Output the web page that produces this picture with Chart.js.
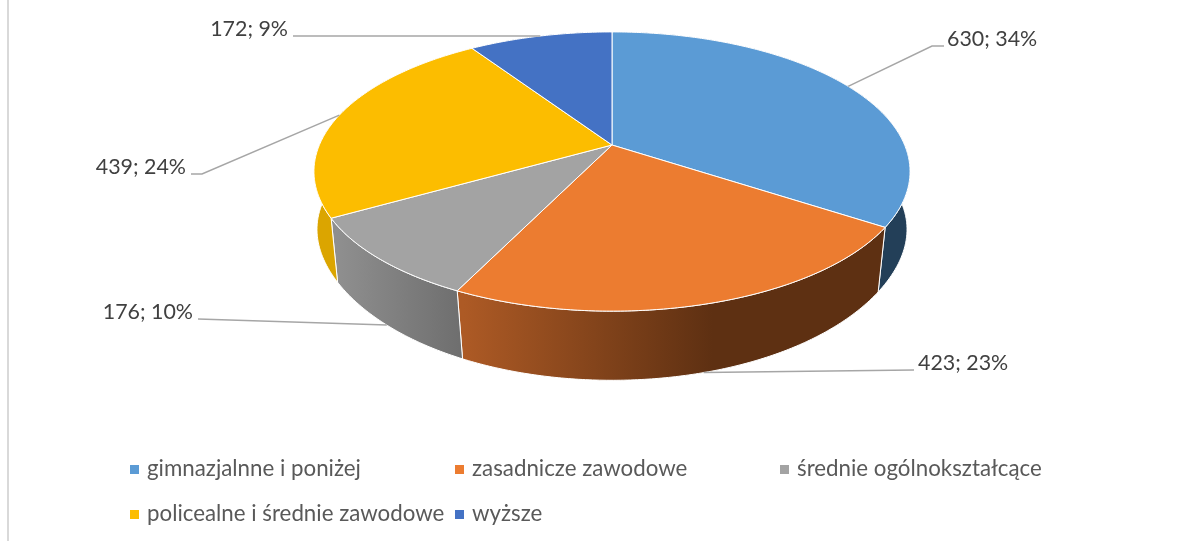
<!DOCTYPE html>
<html lang="pl">
<head>
<meta charset="utf-8">
<title>Wykształcenie</title>
<script src="https://cdn.jsdelivr.net/npm/chart.js@4/dist/chart.umd.min.js"></script>
<style>
  html, body { margin: 0; background: #fff; overflow: hidden; }
  #wrap { position: relative; width: 1198px; height: 541px; }
  #edge { position: absolute; left: 7px; top: 0; width: 2px; height: 541px; background: #d9d9d9; }
  canvas { position: absolute; left: 0; top: 0; }
</style>
</head>
<body>
<div id="wrap">
  <canvas id="chart" width="1198" height="541"></canvas>
  <div id="edge"></div>
</div>
<script>
const categories = ['gimnazjalnne i poniżej', 'zasadnicze zawodowe', 'średnie ogólnokształcące', 'policealne i średnie zawodowe', 'wyższe']
const values = [630, 423, 176, 439, 172]

const topColors = ['#5b9bd5', '#ec7c30', '#a3a3a3', '#fcbd00', '#4472c4']
// side wall gradient, left colour -> right colour, and where it stops changing
const wallColors = [
    ['#233f58', '#233f58', 1],
    ['#ad5a25', '#5e3012', 0.6],
    ['#8f8f8f', '#6e6e6e', 1],
    ['#dba500', '#dba500', 1],
    ['#29446f', '#29446f', 1],
]

// perspective of the pie, all relative to the outer radius
// bulge widens the lower rim at the far left and right, the sides drop almost straight there
const top_face = { dy: 0, w: 2.018, h: 0.928, k: 0.19, bulge: 0 }
const low_face = { dy: 0.414, w: 1.948, h: 0.979, k: 0.19, bulge: 0.028 }

// knee of the leader line and where its text sits
const leaders = [
    { knee: [932, 46], end: [944, 46], text: [947, 39], align: 'left' },
    { knee: [914, 370], end: [914, 370], text: [918, 363], align: 'left' },
    { knee: [198, 319], end: [198, 319], text: [193, 312], align: 'right' },
    { knee: [202, 174], end: [191, 174], text: [186, 167], align: 'right' },
    { knee: [293, 36], end: [293, 36], text: [288, 29], align: 'right' },
]

const legendCols = [130, 455, 780, 130, 455]
const legendRows = [469, 469, 469, 514, 514]
const LABEL_FONT = '21.4px Lato, Carlito, sans-serif'
const LEGEND_FONT = '22.3px Lato, Carlito, sans-serif'

const project = (arc, angle, face) => {
    const R = arc.outerRadius
    const u = Math.cos(angle)
    const v = -Math.sin(angle)
    const d = 1 + face.k * v
    const spread = 1 + face.bulge * Math.pow(u, 6)
    return [arc.x + R * face.w * spread * u / d, arc.y + R * face.dy - R * face.h * v / d]
}

const traceRim = (ctx, arc, from, to, face) => {
    const steps = Math.ceil(Math.abs(to - from) / 0.01)
    for (let i = 0; i <= steps; i++) {
        const p = project(arc, from + (to - from) * i / steps, face)
        ctx.lineTo(p[0], p[1])
    }
}

const pie3d = {
    id: 'pie3d',
    beforeDatasetDraw(chart, args) {
        const ctx = chart.ctx
        const arcs = args.meta.data
        ctx.save()
        ctx.lineJoin = 'round'
        ctx.strokeStyle = '#ffffff'
        ctx.lineWidth = 1

        // walls first, the top face covers whatever is behind
        arcs.forEach((arc, i) => {
            const xs = []
            for (let a = arc.startAngle; a <= arc.endAngle; a += 0.01) xs.push(project(arc, a, low_face)[0])
            const g = ctx.createLinearGradient(Math.min(...xs), 0, Math.max(...xs), 0)
            g.addColorStop(0, wallColors[i][0])
            g.addColorStop(wallColors[i][2], wallColors[i][1])
            g.addColorStop(1, wallColors[i][1])
            ctx.beginPath()
            traceRim(ctx, arc, arc.startAngle, arc.endAngle, top_face)
            traceRim(ctx, arc, arc.endAngle, arc.startAngle, low_face)
            ctx.closePath()
            ctx.fillStyle = g
            ctx.fill()
            ctx.stroke()
        })

        arcs.forEach((arc, i) => {
            ctx.beginPath()
            ctx.moveTo(arc.x, arc.y)
            traceRim(ctx, arc, arc.startAngle, arc.endAngle, top_face)
            ctx.closePath()
            ctx.fillStyle = topColors[i]
            ctx.fill()
            ctx.stroke()
        })
        ctx.restore()
        return false
    },
    afterDraw(chart) {
        const ctx = chart.ctx
        const arcs = chart.getDatasetMeta(0).data
        const total = values.reduce((a, b) => a + b, 0)
        ctx.save()
        ctx.textBaseline = 'middle'

        ctx.font = LABEL_FONT
        arcs.forEach((arc, i) => {
            // leader starts on the rim in the middle of the slice
            const mid = (arc.startAngle + arc.endAngle) / 2
            const front = Math.sin(mid) > 0
            const start = project(arc, mid, front ? low_face : top_face)
            const l = leaders[i]
            ctx.beginPath()
            ctx.moveTo(start[0], start[1])
            ctx.lineTo(l.knee[0], l.knee[1])
            ctx.lineTo(l.end[0], l.end[1])
            ctx.strokeStyle = '#a6a6a6'
            ctx.lineWidth = 1.5
            ctx.stroke()

            ctx.fillStyle = '#404040'
            ctx.textAlign = l.align
            ctx.fillText(values[i] + '; ' + Math.round(values[i] / total * 100) + '%', l.text[0], l.text[1])
        })

        ctx.font = LEGEND_FONT
        ctx.textAlign = 'left'
        categories.forEach((name, i) => {
            ctx.fillStyle = topColors[i]
            ctx.fillRect(legendCols[i], legendRows[i] - 4, 9, 9)
            ctx.fillStyle = '#595959'
            ctx.fillText(name, legendCols[i] + 17, legendRows[i])
        })
        ctx.restore()
    },
}

new Chart(document.getElementById('chart'), {
    type: 'pie',
    data: {
        labels: categories,
        datasets: [{ data: values, backgroundColor: topColors, borderWidth: 0 }],
    },
    options: {
        responsive: false,
        animation: false,
        layout: { padding: { left: 26, top: 0, right: 0, bottom: 251 } },
        plugins: { legend: { display: false }, tooltip: { enabled: false } },
    },
    plugins: [pie3d],
})
</script>
</body>
</html>
